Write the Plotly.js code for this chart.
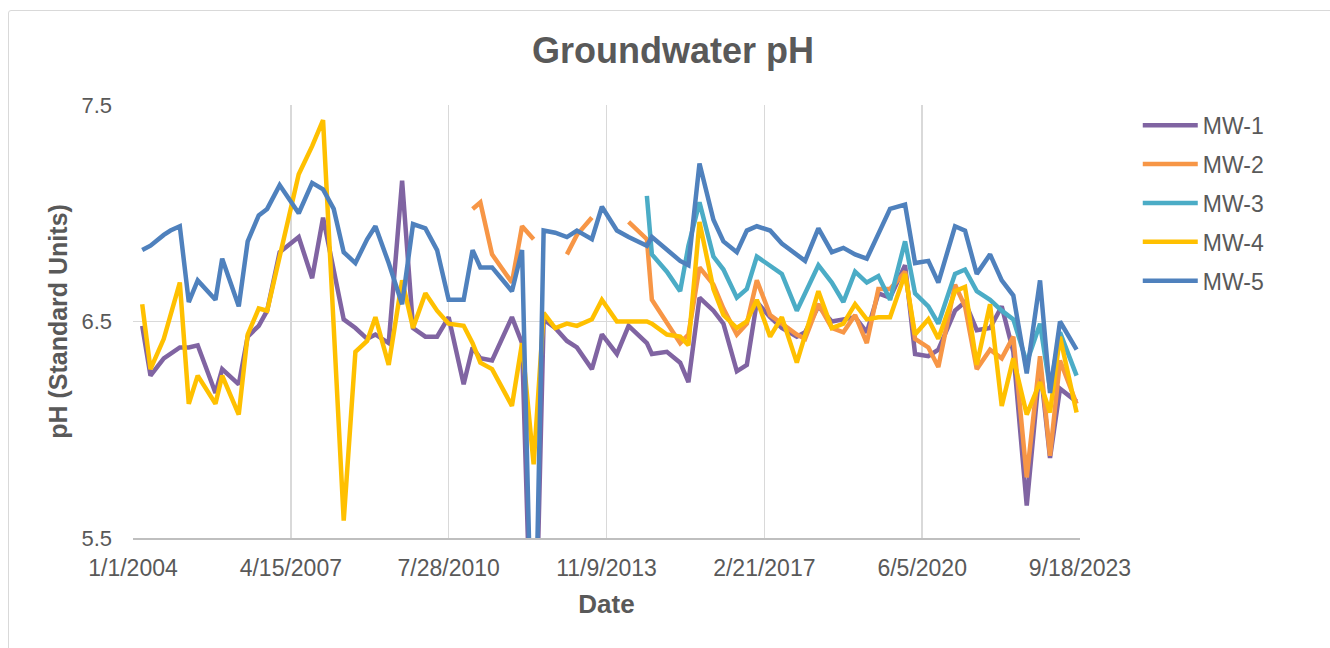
<!DOCTYPE html>
<html>
<head>
<meta charset="utf-8">
<script src="https://cdn.plot.ly/plotly-3.0.1.min.js"></script>
<style>
  body { margin: 0; background: #fff; }
  #frame { position: absolute; left: 8px; top: 10px; width: 1400px; height: 700px;
           border: 1px solid #d9d9d9; border-radius: 3px; }
  #chart { position: absolute; left: 0; top: 0; width: 1330px; height: 648px; }
</style>
</head>
<body>
<div id="frame"></div>
<div id="chart"></div>
<script>
// sampling dates (shared by all wells)
const dates = [
  "2004-03-11","2004-05-13","2004-08-22","2004-10-12","2004-12-22","2005-02-28","2005-05-07","2005-09-19","2005-11-09","2006-03-15",
  "2006-05-22","2006-08-14","2006-10-17","2007-01-20","2007-06-14","2007-09-24","2007-12-16","2008-03-06","2008-05-21","2008-08-18",
  "2008-11-15","2009-01-17","2009-04-28","2009-08-08","2009-10-30","2010-02-01","2010-05-01","2010-07-28","2010-11-19","2011-01-26",
  "2011-03-26","2011-06-23","2011-11-21","2012-02-06","2012-05-04","2012-07-19","2012-10-15","2013-01-12","2013-03-29","2013-07-21",
  "2013-10-05","2014-01-27","2014-04-26","2014-09-12","2014-10-20","2015-02-11","2015-05-23","2015-07-25","2015-10-17","2016-01-31",
  "2016-04-16","2016-07-27","2016-10-11","2016-12-26","2017-04-06","2017-07-04","2017-10-26","2017-12-28","2018-04-08","2018-07-19",
  "2018-10-15","2019-01-12","2019-04-11","2019-07-08","2019-10-05","2020-01-27","2020-04-12","2020-07-22","2020-10-06","2021-02-10",
  "2021-04-27","2021-07-25","2021-11-03","2022-01-31","2022-04-29","2022-08-09","2022-11-18","2023-02-02","2023-04-19","2023-08-23"
];

// pH values per well (null = not sampled)
const mw1 = [
  6.48, 6.25, 6.33, 6.35, 6.38, 6.38, 6.39, 6.17, 6.28, 6.21,
  6.43, 6.48, 6.55, 6.82, 6.89, 6.70, 6.98, null, 6.51, 6.47,
  6.42, 6.44, 6.40, 7.15, 6.47, 6.43, 6.43, 6.52, 6.21, 6.38,
  6.33, 6.32, 6.52, 6.40, 4.60, 6.51, 6.47, 6.41, 6.38, 6.28,
  6.44, 6.35, 6.48, 6.40, 6.35, 6.36, 6.31, 6.22, 6.61, 6.55,
  6.49, 6.27, 6.30, 6.59, 6.52, 6.47, 6.43, 6.45, 6.57, 6.50,
  6.51, 6.52, 6.45, 6.63, 6.61, 6.76, 6.35, 6.34, 6.37, 6.55,
  6.59, 6.46, 6.47, 6.57, 6.36, 5.65, 6.30, 5.87, 6.19, 6.13
];
const mw2 = [
  null, null, null, null, null, null, null, null, null, null,
  null, null, null, null, null, null, null, null, null, null,
  null, null, null, null, null, null, null, null, null, 7.02,
  7.05, 6.81, 6.68, 6.94, 6.88, null, null, 6.81, 6.90, 6.98,
  null, null, 6.96, 6.88, 6.60, 6.49, 6.40, 6.44, 6.75, 6.67,
  6.56, 6.44, 6.49, 6.69, 6.53, 6.49, 6.44, 6.42, 6.58, 6.47,
  6.45, 6.53, 6.40, 6.65, 6.65, 6.73, 6.42, 6.38, 6.29, 6.67,
  6.57, 6.28, 6.37, 6.33, 6.43, 5.78, 6.34, 5.88, 6.32, 6.12
];
const mw3 = [
  null, null, null, null, null, null, null, null, null, null,
  null, null, null, null, null, null, null, null, null, null,
  null, null, null, null, null, null, null, null, null, null,
  null, null, null, null, null, null, null, null, null, null,
  null, null, null, 7.08, 6.81, 6.73, 6.64, 6.85, 7.05, 6.80,
  6.74, 6.61, 6.65, 6.80, 6.76, 6.72, 6.55, null, 6.76, 6.68,
  6.59, 6.73, 6.68, 6.71, 6.60, 6.87, 6.63, 6.57, 6.49, 6.72,
  6.74, 6.64, 6.60, 6.55, 6.51, 6.31, 6.49, 6.19, 6.45, 6.25
];
const mw4 = [
  6.58, 6.28, 6.42, null, 6.68, 6.12, 6.25, 6.12, 6.25, 6.07,
  6.44, 6.56, 6.55, null, 7.18, 7.31, 7.43, null, 5.58, 6.36,
  6.41, 6.52, 6.30, 6.69, 6.47, 6.63, 6.55, 6.49, 6.48, 6.40,
  6.31, 6.28, 6.11, 6.40, 5.84, 6.54, 6.47, 6.49, 6.48, 6.51,
  6.60, 6.50, 6.50, 6.50, 6.49, 6.44, 6.43, 6.39, 6.96, 6.65,
  6.53, 6.47, 6.50, 6.60, 6.43, 6.52, 6.31, null, 6.64, 6.47,
  6.49, 6.58, 6.51, 6.52, 6.52, 6.72, 6.44, 6.51, 6.42, 6.64,
  6.66, 6.30, 6.58, 6.11, 6.33, 6.07, 6.22, 6.08, 6.43, 6.08
];
const mw5 = [
  6.83, 6.85, 6.90, 6.92, 6.94, 6.59, 6.69, 6.60, 6.79, 6.57,
  6.87, 6.99, 7.02, 7.13, 7.00, 7.14, 7.11, 7.02, 6.82, 6.77,
  6.88, 6.94, 6.77, 6.58, 6.95, 6.93, 6.83, 6.60, 6.60, 6.83,
  6.75, 6.75, 6.64, 6.83, 4.60, 6.92, 6.91, 6.89, 6.92, 6.88,
  7.03, 6.92, 6.89, 6.85, 6.89, 6.83, 6.78, 6.76, 7.23, 6.97,
  6.87, 6.82, 6.92, 6.94, 6.92, 6.86, 6.81, 6.78, 6.93, 6.82,
  6.84, 6.81, 6.79, 6.91, 7.02, 7.04, 6.77, 6.78, 6.68, 6.94,
  6.92, 6.72, 6.81, 6.69, 6.62, 6.26, 6.69, 6.17, 6.50, 6.37
];

const wellNames = ["MW-1", "MW-2", "MW-3", "MW-4", "MW-5"];
const wellColors = ["#8064A2", "#F79646", "#4BACC6", "#FFC000", "#4F81BD"];
const tickDates = ["2004-01-01", "2007-04-15", "2010-07-28", "2013-11-09", "2017-02-21", "2020-06-05", "2023-09-18"];
const tickLabels = ["1/1/2004", "4/15/2007", "7/28/2010", "11/9/2013", "2/21/2017", "6/5/2020", "9/18/2023"];

const series = [mw1, mw2, mw3, mw4, mw5];
const grey = "#595959";
const fontFam = "Liberation Sans, Arial, sans-serif";

const data = series.map((vals, i) => ({
  x: dates,
  y: vals,
  type: "scatter",
  mode: "lines",
  name: wellNames[i],
  legendgroup: wellNames[i],
  connectgaps: wellNames[i] !== "MW-2",
  line: { color: wellColors[i], width: 4.5 },
  hoverinfo: "x+y+name"
}));

const layout = {
  width: 1330,
  height: 648,
  paper_bgcolor: "rgba(0,0,0,0)",
  plot_bgcolor: "#fff",
  margin: { l: 132.5, r: 250, t: 105, b: 110 },
  font: { family: fontFam, color: grey },
  title: {
    text: "<b>Groundwater pH</b>",
    font: { size: 36, color: grey, family: fontFam },
    x: 0.506, xref: "container", xanchor: "center",
    y: 0.922, yref: "container", yanchor: "middle"
  },
  xaxis: {
    type: "date",
    range: [tickDates[0], tickDates[tickDates.length - 1]],
    tickvals: tickDates,
    ticktext: tickLabels,
    tickfont: { size: 23, color: grey },
    ticklabelstandoff: 9,
    showgrid: true,
    gridcolor: "#d9d9d9",
    gridwidth: 1.5,
    showline: true,
    linecolor: "#bfbfbf",
    linewidth: 1.5,
    ticks: "",
    zeroline: false,
    title: { text: "<b>Date</b>", font: { size: 26, color: grey }, standoff: 14 }
  },
  yaxis: {
    range: [5.5, 7.5],
    tickvals: [5.5, 6.5, 7.5],
    ticktext: ["5.5", "6.5", "7.5"],
    tickfont: { size: 22, color: grey },
    showgrid: true,
    gridcolor: "#d9d9d9",
    gridwidth: 1.5,
    showline: false,
    zeroline: false,
    ticks: "",
    ticklabelstandoff: 20,
    title: { text: "<b>pH (Standard Units)</b>", font: { size: 25, color: grey }, standoff: 6 }
  },
  showlegend: true,
  legend: {
    x: 1.061, xanchor: "left",
    y: 1.003, yanchor: "top",
    font: { size: 23, color: grey },
    itemwidth: 55,
    tracegroupgap: 6,
    bgcolor: "rgba(0,0,0,0)"
  }
};

Plotly.newPlot("chart", data, layout, { displayModeBar: false, staticPlot: true });
</script>
</body>
</html>
